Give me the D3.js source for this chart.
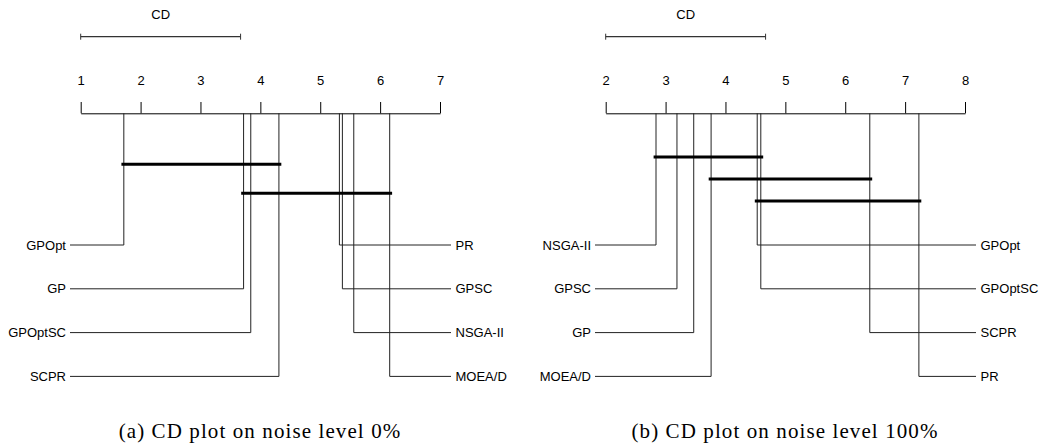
<!DOCTYPE html>
<html>
<head>
<meta charset="utf-8">
<script src="https://cdn.jsdelivr.net/npm/d3@7"></script>
<style>
  body { margin: 0; background: #fff; }
  text { font-family: "Liberation Sans", Arial, sans-serif; fill: #000; }
  .cap { font-family: "Liberation Serif", "Times New Roman", serif; }
</style>
</head>
<body>
<svg id="chart"></svg>
<script>
// noise level 0%
var namesA = ["GPOpt", "GP", "GPOptSC", "SCPR", "PR", "GPSC", "NSGA-II", "MOEA/D"];
var ranksA = [1.72, 3.72, 3.84, 4.31, 5.32, 5.37, 5.56, 6.16];
var cliquesA = [["GPOpt", "SCPR"], ["GP", "MOEA/D"]];
var ticksA = [1, 2, 3, 4, 5, 6, 7];

// noise level 100%
var namesB = ["NSGA-II", "GPSC", "GP", "MOEA/D", "GPOpt", "GPOptSC", "SCPR", "PR"];
var ranksB = [2.84, 3.19, 3.47, 3.76, 4.53, 4.59, 6.41, 7.23];
var cliquesB = [["NSGA-II", "GPOptSC"], ["MOEA/D", "SCPR"], ["GPOpt", "PR"]];
var ticksB = [2, 3, 4, 5, 6, 7, 8];

var cd = 2.67;
var captions = ["(a) CD plot on noise level 0%", "(b) CD plot on noise level 100%"];

var W = 1039, H = 445;
var svg = d3.select("#chart").attr("width", W).attr("height", H);

function cdPanel(ox, names, ranks, cliques, ticks, cliqueTop, cliqueStep, caption) {
    var g = svg.append("g").attr("transform", "translate(" + ox + ",0)");

    var axisY = 113.3;
    var x = d3.scaleLinear()
        .domain([ticks[0], ticks[ticks.length - 1]])
        .range([80.7, 440]);

    var axis = d3.axisTop(x)
        .tickValues(ticks)
        .tickFormat(d3.format("d"))
        .tickSize(11.3)
        .tickSizeOuter(0)
        .tickPadding(17);

    var ax = g.append("g")
        .attr("transform", "translate(0," + axisY + ")")
        .call(axis);
    ax.select(".domain").attr("stroke", "#000");
    ax.selectAll(".tick line").attr("stroke", "#000");
    ax.selectAll("text")
        .style("font-family", "Liberation Sans, Arial, sans-serif")
        .style("font-size", "13px")
        .attr("fill", "#000");

    // CD bar
    var cdX0 = x(ticks[0]), cdX1 = x(ticks[0] + cd);
    g.append("line")
        .attr("x1", cdX0).attr("x2", cdX1)
        .attr("y1", 36.7).attr("y2", 36.7)
        .attr("stroke", "#333").attr("stroke-width", 1.2);
    [cdX0, cdX1].forEach(function (v) {
        g.append("line")
            .attr("x1", v).attr("x2", v)
            .attr("y1", 33.7).attr("y2", 39.7)
            .attr("stroke", "#333").attr("stroke-width", 1);
    });
    g.append("text")
        .attr("x", (cdX0 + cdX1) / 2)
        .attr("y", 19)
        .attr("text-anchor", "middle")
        .style("font-size", "13px")
        .text("CD");

    // method lines: first half on the left, second half on the right
    var half = names.length / 2;
    var rowY = function (i) { return 245 + i * 43.8; };
    names.forEach(function (n, i) {
        var left = i < half;
        var y = rowY(left ? i : i - half);
        var xr = x(ranks[i]);
        var xe = left ? 70 : 451;
        g.append("path")
            .attr("d", "M" + xr + "," + axisY + "V" + y + "H" + xe)
            .attr("fill", "none")
            .attr("stroke", "#222")
            .attr("stroke-width", 1);
        g.append("text")
            .attr("x", left ? 66 : 455.5)
            .attr("y", y)
            .attr("dy", "0.35em")
            .attr("text-anchor", left ? "end" : "start")
            .style("font-size", "13px")
            .text(n);
    });

    // cliques
    cliques.forEach(function (c, i) {
        var a = x(ranks[names.indexOf(c[0])]) - 2.4;
        var b = x(ranks[names.indexOf(c[1])]) + 2.4;
        var y = cliqueTop + i * cliqueStep;
        g.append("line")
            .attr("x1", a).attr("x2", b)
            .attr("y1", y).attr("y2", y)
            .attr("stroke", "#000")
            .attr("stroke-width", 3);
    });

    g.append("text")
        .attr("class", "cap")
        .attr("x", 260)
        .attr("y", 438)
        .attr("text-anchor", "middle")
        .style("font-size", "21px")
        .style("letter-spacing", "1.1px")
        .text(caption);
}

cdPanel(0, namesA, ranksA, cliquesA, ticksA, 164.3, 29, captions[0]);
cdPanel(525, namesB, ranksB, cliquesB, ticksB, 157, 22, captions[1]);
</script>
</body>
</html>
